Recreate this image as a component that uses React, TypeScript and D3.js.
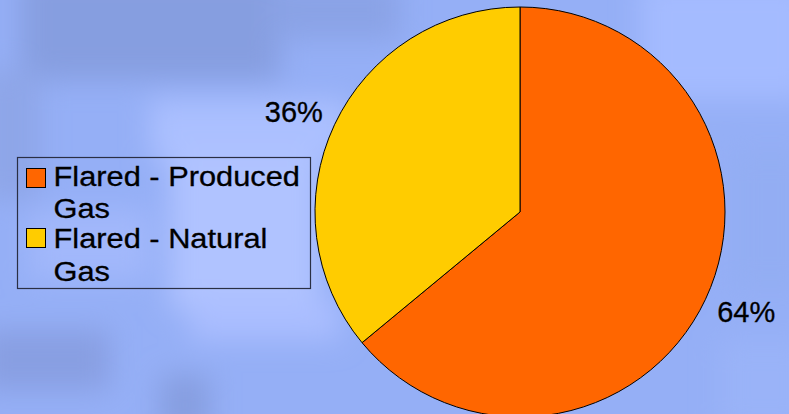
import React from "react";
import * as d3 from "d3";

const categories = ["Flared - Produced Gas", "Flared - Natural Gas"];
const legendLines = [["Flared - Produced", "Gas"], ["Flared - Natural", "Gas"]];
const shares = [64, 36];
const colors = ["#ff6600", "#ffcc00"];

const W = 789;
const H = 414;

export default function App() {
  const cx = 520;
  const cy = 212;
  const r = 205;

  const pie = d3.pie<number>().sort(null).startAngle(0).endAngle(2 * Math.PI);
  const arcs = pie(shares);
  const arc = d3.arc<d3.PieArcDatum<number>>().innerRadius(0).outerRadius(r);

  const total = d3.sum(shares);
  const fmt = (v: number) => `${Math.round((v / total) * 100)}%`;

  // legend layout
  const baselines = [[186, 218], [248, 281]];
  const markerTop = [168, 228];

  return (
    <svg
      width={W}
      height={H}
      style={{ position: "fixed", left: 0, top: 0, display: "block" }}
      fontFamily="'Liberation Sans', Arial, sans-serif"
    >
      <defs>
        <filter id="soft" x="-20%" y="-20%" width="140%" height="140%">
          <feGaussianBlur stdDeviation="14" />
        </filter>
      </defs>

      {/* blurred blue backdrop */}
      <rect x={0} y={0} width={W} height={H} fill="#95aff6" />
      <g filter="url(#soft)">
        <rect x={20} y={-30} width={260} height={110} fill="#869ee0" />
        <rect x={270} y={-20} width={130} height={60} fill="#8aa3e6" />
        <rect x={150} y={100} width={200} height={60} fill="#abc0ff" />
        <rect x={170} y={150} width={150} height={160} fill="#b0c3ff" />
        <rect x={-20} y={70} width={60} height={130} fill="#8ea6e8" />
        <rect x={30} y={210} width={120} height={70} fill="#a2b8fb" />
        <rect x={-20} y={330} width={130} height={60} fill="#889fe2" />
        <rect x={160} y={375} width={50} height={60} fill="#869ee0" />
        <rect x={190} y={300} width={150} height={40} fill="#aabeff" />
        <rect x={640} y={-20} width={170} height={120} fill="#a4bbff" />
        <rect x={730} y={150} width={80} height={140} fill="#93adf3" />
        <rect x={720} y={340} width={90} height={90} fill="#9ab3f8" />
      </g>

      {/* pie */}
      <g transform={`translate(${cx},${cy})`}>
        {arcs.map((a, i) => (
          <path key={categories[i]} d={arc(a) ?? ""} fill={colors[i]} stroke="#000" strokeWidth={1} />
        ))}
        {arcs.map((a, i) => {
          const mid = (a.startAngle + a.endAngle) / 2;
          const x = 250 * Math.sin(mid);
          const y = -235 * Math.cos(mid);
          return (
            <text
              key={`l${i}`}
              x={x}
              y={y + 10}
              textAnchor="middle"
              fontSize={29}
              fill="#000"
              stroke="#000"
              strokeWidth={0.3}
            >
              {fmt(a.data)}
            </text>
          );
        })}
      </g>

      {/* legend */}
      <rect x={17.5} y={157.5} width={293} height={131} fill="none" stroke="#2a2f44" strokeWidth={1.2} />
      {legendLines.map((lines, i) => (
        <g key={categories[i]}>
          <rect x={26.5} y={markerTop[i] + 0.5} width={19} height={19} fill={colors[i]} stroke="#000" strokeWidth={1} />
          {lines.map((t, j) => (
            <g key={t + j} transform={`translate(53.5,${baselines[i][j]}) scale(1.1,1)`}>
              <text x={0} y={0} fontSize={28} fill="#000" stroke="#000" strokeWidth={0.3}>
                {t}
              </text>
            </g>
          ))}
        </g>
      ))}
    </svg>
  );
}
